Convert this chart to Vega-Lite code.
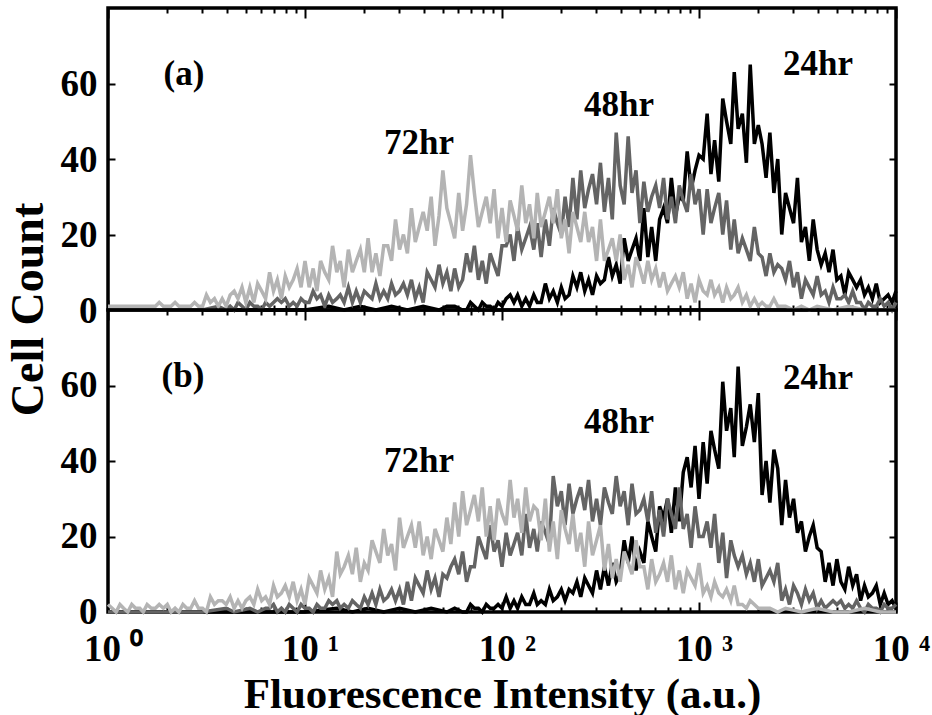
{
"$schema": "https://vega.github.io/schema/vega-lite/v6.json",
"padding": {"left": 3, "top": 5, "right": 0, "bottom": 0},
"bounds": "flush",
"spacing": 0,
"config": {
 "font": "Liberation Serif",
 "view": {"stroke": "#000000", "strokeWidth": 3.5},
 "axis": {"domain": false, "grid": false, "tickColor": "#000000", "tickWidth": 2, "zindex": 1, "labelFont": "Liberation Serif", "labelFontWeight": "bold", "labelFontSize": 37, "labelColor": "#000000", "titleFont": "Liberation Serif", "titleFontWeight": "bold", "titleFontSize": 44, "titleColor": "#000000", "labelFlush": false, "labelOverlap": false}
},
"datasets": {
"a72": [{"x":1,"y":1},{"x":1.2,"y":1},{"x":1.45,"y":1},{"x":1.74,"y":1},{"x":1.82,"y":2},{"x":1.91,"y":1},{"x":2.09,"y":1},{"x":2.19,"y":2},{"x":2.29,"y":1},{"x":2.51,"y":1},{"x":2.63,"y":1},{"x":2.75,"y":2},{"x":2.88,"y":1},{"x":3.02,"y":1},{"x":3.16,"y":4},{"x":3.31,"y":2},{"x":3.47,"y":3},{"x":3.63,"y":1},{"x":3.8,"y":3},{"x":3.98,"y":1},{"x":4.17,"y":4},{"x":4.37,"y":5},{"x":4.57,"y":3},{"x":4.79,"y":6},{"x":5.01,"y":2},{"x":5.25,"y":6},{"x":5.5,"y":2},{"x":5.75,"y":7},{"x":6.03,"y":5},{"x":6.31,"y":3},{"x":6.61,"y":10},{"x":6.92,"y":5},{"x":7.24,"y":8},{"x":7.59,"y":3},{"x":7.94,"y":9},{"x":8.32,"y":6},{"x":8.71,"y":8},{"x":9.12,"y":11},{"x":9.55,"y":6},{"x":10,"y":13},{"x":10.5,"y":6},{"x":11,"y":11},{"x":11.5,"y":5},{"x":12,"y":13},{"x":12.6,"y":10},{"x":13.2,"y":8},{"x":13.8,"y":17},{"x":14.5,"y":10},{"x":15.1,"y":13},{"x":15.8,"y":6},{"x":16.6,"y":16},{"x":17.4,"y":10},{"x":18.2,"y":13},{"x":19.1,"y":16},{"x":20,"y":10},{"x":20.9,"y":19},{"x":21.9,"y":10},{"x":22.9,"y":15},{"x":24,"y":9},{"x":25.1,"y":17},{"x":26.3,"y":17},{"x":27.5,"y":13},{"x":28.8,"y":24},{"x":30.2,"y":16},{"x":31.6,"y":20},{"x":33.1,"y":15},{"x":34.7,"y":27},{"x":36.3,"y":18},{"x":38,"y":22},{"x":39.8,"y":26},{"x":41.7,"y":21},{"x":43.7,"y":30},{"x":45.7,"y":17},{"x":47.9,"y":25},{"x":50.1,"y":37},{"x":52.5,"y":27},{"x":55,"y":23},{"x":57.5,"y":19},{"x":60.3,"y":31},{"x":63.1,"y":21},{"x":66.1,"y":28},{"x":69.2,"y":41},{"x":72.4,"y":31},{"x":75.9,"y":22},{"x":79.4,"y":26},{"x":83.2,"y":30},{"x":87.1,"y":23},{"x":91.2,"y":32},{"x":95.5,"y":19},{"x":100,"y":27},{"x":105,"y":18},{"x":110,"y":29},{"x":115,"y":25},{"x":120,"y":21},{"x":126,"y":33},{"x":132,"y":23},{"x":138,"y":28},{"x":145,"y":19},{"x":151,"y":31},{"x":158,"y":22},{"x":166,"y":26},{"x":174,"y":30},{"x":182,"y":23},{"x":191,"y":32},{"x":200,"y":19},{"x":209,"y":24},{"x":219,"y":15},{"x":229,"y":26},{"x":240,"y":22},{"x":251,"y":18},{"x":263,"y":26},{"x":275,"y":18},{"x":288,"y":22},{"x":302,"y":13},{"x":316,"y":24},{"x":331,"y":13},{"x":347,"y":16},{"x":363,"y":19},{"x":380,"y":13},{"x":398,"y":20},{"x":417,"y":8},{"x":437,"y":12},{"x":457,"y":6},{"x":479,"y":14},{"x":501,"y":11},{"x":525,"y":7},{"x":550,"y":13},{"x":575,"y":8},{"x":603,"y":11},{"x":631,"y":6},{"x":661,"y":10},{"x":692,"y":5},{"x":724,"y":7},{"x":759,"y":9},{"x":794,"y":6},{"x":832,"y":10},{"x":871,"y":3},{"x":912,"y":7},{"x":955,"y":2},{"x":1000,"y":8},{"x":1050,"y":5},{"x":1100,"y":4},{"x":1150,"y":8},{"x":1200,"y":4},{"x":1260,"y":6},{"x":1320,"y":2},{"x":1380,"y":6},{"x":1450,"y":3},{"x":1510,"y":4},{"x":1580,"y":6},{"x":1660,"y":2},{"x":1740,"y":4},{"x":1820,"y":1},{"x":1910,"y":3},{"x":2000,"y":1},{"x":2090,"y":2},{"x":2190,"y":1},{"x":2290,"y":1},{"x":2400,"y":3},{"x":2510,"y":1},{"x":2750,"y":1},{"x":3020,"y":0},{"x":3310,"y":1},{"x":3630,"y":0},{"x":3980,"y":1},{"x":4790,"y":0},{"x":5750,"y":1},{"x":6920,"y":0},{"x":8320,"y":0},{"x":10000,"y":0}],
"a48": [{"x":1,"y":0},{"x":1.32,"y":0},{"x":1.74,"y":0},{"x":2.29,"y":0},{"x":3.02,"y":0},{"x":3.63,"y":1},{"x":3.98,"y":0},{"x":4.17,"y":1},{"x":4.37,"y":0},{"x":4.57,"y":2},{"x":4.79,"y":1},{"x":5.01,"y":0},{"x":5.25,"y":2},{"x":5.5,"y":1},{"x":5.75,"y":1},{"x":6.03,"y":0},{"x":6.31,"y":2},{"x":6.61,"y":1},{"x":6.92,"y":2},{"x":7.24,"y":3},{"x":7.59,"y":2},{"x":7.94,"y":3},{"x":8.32,"y":1},{"x":8.71,"y":2},{"x":9.12,"y":1},{"x":9.55,"y":3},{"x":10,"y":2},{"x":10.5,"y":2},{"x":11,"y":5},{"x":11.5,"y":3},{"x":12,"y":4},{"x":12.6,"y":1},{"x":13.2,"y":4},{"x":13.8,"y":2},{"x":14.5,"y":3},{"x":15.1,"y":4},{"x":15.8,"y":2},{"x":16.6,"y":6},{"x":17.4,"y":2},{"x":18.2,"y":5},{"x":19.1,"y":2},{"x":20,"y":5},{"x":20.9,"y":4},{"x":21.9,"y":3},{"x":22.9,"y":7},{"x":24,"y":3},{"x":25.1,"y":5},{"x":26.3,"y":3},{"x":27.5,"y":7},{"x":28.8,"y":4},{"x":30.2,"y":5},{"x":31.6,"y":7},{"x":33.1,"y":4},{"x":34.7,"y":8},{"x":36.3,"y":3},{"x":38,"y":6},{"x":39.8,"y":2},{"x":41.7,"y":10},{"x":43.7,"y":8},{"x":45.7,"y":6},{"x":47.9,"y":12},{"x":50.1,"y":7},{"x":52.5,"y":10},{"x":55,"y":5},{"x":57.5,"y":11},{"x":60.3,"y":6},{"x":63.1,"y":8},{"x":66.1,"y":15},{"x":69.2,"y":10},{"x":72.4,"y":17},{"x":75.9,"y":8},{"x":79.4,"y":13},{"x":83.2,"y":7},{"x":87.1,"y":15},{"x":91.2,"y":12},{"x":95.5,"y":9},{"x":100,"y":17},{"x":105,"y":17},{"x":110,"y":20},{"x":115,"y":13},{"x":120,"y":22},{"x":126,"y":16},{"x":132,"y":19},{"x":138,"y":22},{"x":145,"y":16},{"x":151,"y":23},{"x":158,"y":14},{"x":166,"y":24},{"x":174,"y":17},{"x":182,"y":27},{"x":191,"y":23},{"x":200,"y":20},{"x":209,"y":30},{"x":219,"y":22},{"x":229,"y":35},{"x":240,"y":24},{"x":251,"y":37},{"x":263,"y":27},{"x":275,"y":32},{"x":288,"y":36},{"x":302,"y":28},{"x":316,"y":39},{"x":331,"y":26},{"x":347,"y":35},{"x":363,"y":24},{"x":380,"y":47},{"x":398,"y":33},{"x":417,"y":28},{"x":437,"y":46},{"x":457,"y":31},{"x":479,"y":37},{"x":501,"y":23},{"x":525,"y":34},{"x":550,"y":26},{"x":575,"y":30},{"x":603,"y":33},{"x":631,"y":27},{"x":661,"y":35},{"x":692,"y":24},{"x":724,"y":30},{"x":759,"y":23},{"x":794,"y":33},{"x":832,"y":29},{"x":871,"y":26},{"x":912,"y":36},{"x":955,"y":28},{"x":1000,"y":32},{"x":1050,"y":20},{"x":1100,"y":32},{"x":1150,"y":23},{"x":1200,"y":27},{"x":1260,"y":31},{"x":1320,"y":20},{"x":1380,"y":29},{"x":1450,"y":16},{"x":1510,"y":24},{"x":1580,"y":15},{"x":1660,"y":19},{"x":1740,"y":16},{"x":1820,"y":13},{"x":1910,"y":22},{"x":2000,"y":15},{"x":2090,"y":14},{"x":2190,"y":9},{"x":2290,"y":15},{"x":2400,"y":10},{"x":2510,"y":12},{"x":2630,"y":11},{"x":2750,"y":8},{"x":2880,"y":13},{"x":3020,"y":6},{"x":3160,"y":10},{"x":3310,"y":3},{"x":3470,"y":8},{"x":3630,"y":6},{"x":3800,"y":4},{"x":3980,"y":9},{"x":4170,"y":4},{"x":4370,"y":5},{"x":4570,"y":2},{"x":4790,"y":6},{"x":5010,"y":3},{"x":5250,"y":3},{"x":5500,"y":4},{"x":5750,"y":2},{"x":6030,"y":5},{"x":6310,"y":2},{"x":6610,"y":2},{"x":6920,"y":0},{"x":7240,"y":2},{"x":7590,"y":1},{"x":7940,"y":1},{"x":8320,"y":3},{"x":8710,"y":1},{"x":9120,"y":2},{"x":9550,"y":0},{"x":10000,"y":2}],
"a24": [{"x":1,"y":0},{"x":1.58,"y":0},{"x":2.51,"y":0},{"x":3.98,"y":0},{"x":6.31,"y":0},{"x":10,"y":0},{"x":13.2,"y":1},{"x":15.8,"y":0},{"x":19.1,"y":1},{"x":22.9,"y":0},{"x":27.5,"y":1},{"x":33.1,"y":0},{"x":39.8,"y":1},{"x":47.9,"y":0},{"x":52.5,"y":1},{"x":57.5,"y":1},{"x":63.1,"y":0},{"x":66.1,"y":0},{"x":69.2,"y":2},{"x":72.4,"y":1},{"x":75.9,"y":0},{"x":79.4,"y":2},{"x":83.2,"y":1},{"x":87.1,"y":1},{"x":91.2,"y":0},{"x":95.5,"y":2},{"x":100,"y":1},{"x":105,"y":3},{"x":110,"y":4},{"x":115,"y":2},{"x":120,"y":4},{"x":126,"y":1},{"x":132,"y":3},{"x":138,"y":1},{"x":145,"y":4},{"x":151,"y":2},{"x":158,"y":2},{"x":166,"y":7},{"x":174,"y":3},{"x":182,"y":5},{"x":191,"y":2},{"x":200,"y":6},{"x":209,"y":3},{"x":219,"y":4},{"x":229,"y":9},{"x":240,"y":6},{"x":251,"y":10},{"x":263,"y":5},{"x":275,"y":8},{"x":288,"y":4},{"x":302,"y":9},{"x":316,"y":7},{"x":331,"y":8},{"x":347,"y":14},{"x":363,"y":9},{"x":380,"y":12},{"x":398,"y":7},{"x":417,"y":19},{"x":437,"y":13},{"x":457,"y":16},{"x":479,"y":19},{"x":501,"y":13},{"x":525,"y":27},{"x":550,"y":14},{"x":575,"y":22},{"x":603,"y":13},{"x":631,"y":24},{"x":661,"y":27},{"x":692,"y":23},{"x":724,"y":35},{"x":759,"y":25},{"x":794,"y":30},{"x":832,"y":29},{"x":871,"y":42},{"x":912,"y":32},{"x":955,"y":37},{"x":1000,"y":41},{"x":1050,"y":40},{"x":1100,"y":52},{"x":1150,"y":36},{"x":1200,"y":45},{"x":1260,"y":34},{"x":1320,"y":56},{"x":1380,"y":50},{"x":1450,"y":44},{"x":1510,"y":63},{"x":1580,"y":48},{"x":1660,"y":52},{"x":1740,"y":39},{"x":1820,"y":65},{"x":1910,"y":44},{"x":2000,"y":49},{"x":2090,"y":44},{"x":2190,"y":35},{"x":2290,"y":47},{"x":2400,"y":31},{"x":2510,"y":40},{"x":2630,"y":20},{"x":2750,"y":31},{"x":2880,"y":27},{"x":3020,"y":23},{"x":3160,"y":35},{"x":3310,"y":18},{"x":3470,"y":22},{"x":3630,"y":13},{"x":3800,"y":24},{"x":3980,"y":16},{"x":4170,"y":12},{"x":4370,"y":15},{"x":4570,"y":10},{"x":4790,"y":16},{"x":5010,"y":8},{"x":5250,"y":9},{"x":5500,"y":4},{"x":5750,"y":10},{"x":6030,"y":8},{"x":6310,"y":6},{"x":6610,"y":8},{"x":6920,"y":4},{"x":7240,"y":6},{"x":7590,"y":3},{"x":7940,"y":7},{"x":8320,"y":2},{"x":8710,"y":3},{"x":9120,"y":4},{"x":9550,"y":2},{"x":10000,"y":5}],
"b72": [{"x":1,"y":2},{"x":1.05,"y":1},{"x":1.1,"y":0},{"x":1.15,"y":2},{"x":1.2,"y":1},{"x":1.26,"y":0},{"x":1.32,"y":2},{"x":1.38,"y":1},{"x":1.45,"y":1},{"x":1.51,"y":0},{"x":1.58,"y":2},{"x":1.66,"y":1},{"x":1.74,"y":1},{"x":1.82,"y":2},{"x":1.91,"y":1},{"x":2,"y":2},{"x":2.09,"y":0},{"x":2.19,"y":1},{"x":2.29,"y":0},{"x":2.4,"y":2},{"x":2.51,"y":1},{"x":2.63,"y":1},{"x":2.75,"y":3},{"x":2.88,"y":1},{"x":3.02,"y":1},{"x":3.16,"y":0},{"x":3.31,"y":4},{"x":3.47,"y":2},{"x":3.63,"y":3},{"x":3.8,"y":3},{"x":3.98,"y":2},{"x":4.17,"y":4},{"x":4.37,"y":1},{"x":4.57,"y":3},{"x":4.79,"y":1},{"x":5.01,"y":3},{"x":5.25,"y":4},{"x":5.5,"y":2},{"x":5.75,"y":6},{"x":6.03,"y":3},{"x":6.31,"y":4},{"x":6.61,"y":2},{"x":6.92,"y":7},{"x":7.24,"y":4},{"x":7.59,"y":5},{"x":7.94,"y":7},{"x":8.32,"y":4},{"x":8.71,"y":8},{"x":9.12,"y":3},{"x":9.55,"y":6},{"x":10,"y":2},{"x":10.5,"y":9},{"x":11,"y":7},{"x":11.5,"y":5},{"x":12,"y":11},{"x":12.6,"y":6},{"x":13.2,"y":9},{"x":13.8,"y":4},{"x":14.5,"y":16},{"x":15.1,"y":10},{"x":15.8,"y":12},{"x":16.6,"y":15},{"x":17.4,"y":10},{"x":18.2,"y":17},{"x":19.1,"y":8},{"x":20,"y":13},{"x":20.9,"y":11},{"x":21.9,"y":19},{"x":22.9,"y":16},{"x":24,"y":13},{"x":25.1,"y":22},{"x":26.3,"y":15},{"x":27.5,"y":18},{"x":28.8,"y":11},{"x":30.2,"y":25},{"x":31.6,"y":17},{"x":33.1,"y":20},{"x":34.7,"y":23},{"x":36.3,"y":17},{"x":38,"y":24},{"x":39.8,"y":15},{"x":41.7,"y":20},{"x":43.7,"y":14},{"x":45.7,"y":22},{"x":47.9,"y":19},{"x":50.1,"y":16},{"x":52.5,"y":25},{"x":55,"y":18},{"x":57.5,"y":29},{"x":60.3,"y":20},{"x":63.1,"y":32},{"x":66.1,"y":23},{"x":69.2,"y":27},{"x":72.4,"y":31},{"x":75.9,"y":24},{"x":79.4,"y":33},{"x":83.2,"y":20},{"x":87.1,"y":28},{"x":91.2,"y":19},{"x":95.5,"y":30},{"x":100,"y":26},{"x":105,"y":23},{"x":110,"y":35},{"x":115,"y":25},{"x":120,"y":30},{"x":126,"y":21},{"x":132,"y":33},{"x":138,"y":24},{"x":145,"y":28},{"x":151,"y":27},{"x":158,"y":19},{"x":166,"y":30},{"x":174,"y":16},{"x":182,"y":24},{"x":191,"y":14},{"x":200,"y":27},{"x":209,"y":22},{"x":219,"y":18},{"x":229,"y":26},{"x":240,"y":16},{"x":251,"y":21},{"x":263,"y":12},{"x":275,"y":24},{"x":288,"y":15},{"x":302,"y":19},{"x":316,"y":23},{"x":331,"y":11},{"x":347,"y":18},{"x":363,"y":9},{"x":380,"y":14},{"x":398,"y":8},{"x":417,"y":16},{"x":437,"y":13},{"x":457,"y":10},{"x":479,"y":19},{"x":501,"y":12},{"x":525,"y":12},{"x":550,"y":6},{"x":575,"y":14},{"x":603,"y":8},{"x":631,"y":10},{"x":661,"y":13},{"x":692,"y":8},{"x":724,"y":15},{"x":759,"y":6},{"x":794,"y":11},{"x":832,"y":5},{"x":871,"y":11},{"x":912,"y":9},{"x":955,"y":7},{"x":1000,"y":13},{"x":1050,"y":5},{"x":1100,"y":7},{"x":1150,"y":4},{"x":1200,"y":8},{"x":1260,"y":5},{"x":1320,"y":4},{"x":1380,"y":6},{"x":1450,"y":3},{"x":1510,"y":7},{"x":1580,"y":2},{"x":1660,"y":2},{"x":1740,"y":1},{"x":1820,"y":3},{"x":1910,"y":2},{"x":2000,"y":1},{"x":2290,"y":1},{"x":2510,"y":0},{"x":2750,"y":1},{"x":3310,"y":0},{"x":3980,"y":1},{"x":4790,"y":0},{"x":5750,"y":0},{"x":6920,"y":1},{"x":8320,"y":0},{"x":10000,"y":0}],
"b48": [{"x":1,"y":0},{"x":1.45,"y":0},{"x":2.09,"y":0},{"x":3.02,"y":0},{"x":3.98,"y":1},{"x":4.37,"y":0},{"x":5.25,"y":1},{"x":5.75,"y":0},{"x":6.31,"y":1},{"x":6.61,"y":1},{"x":6.92,"y":2},{"x":7.24,"y":0},{"x":7.59,"y":1},{"x":7.94,"y":0},{"x":8.32,"y":2},{"x":8.71,"y":1},{"x":9.12,"y":0},{"x":9.55,"y":2},{"x":10,"y":1},{"x":10.5,"y":1},{"x":11,"y":0},{"x":11.5,"y":2},{"x":12,"y":1},{"x":12.6,"y":1},{"x":13.2,"y":3},{"x":13.8,"y":2},{"x":14.5,"y":3},{"x":15.1,"y":1},{"x":15.8,"y":2},{"x":16.6,"y":1},{"x":17.4,"y":3},{"x":18.2,"y":2},{"x":19.1,"y":1},{"x":20,"y":4},{"x":20.9,"y":2},{"x":21.9,"y":5},{"x":22.9,"y":2},{"x":24,"y":6},{"x":25.1,"y":3},{"x":26.3,"y":4},{"x":27.5,"y":6},{"x":28.8,"y":3},{"x":30.2,"y":6},{"x":31.6,"y":2},{"x":33.1,"y":8},{"x":34.7,"y":3},{"x":36.3,"y":9},{"x":38,"y":7},{"x":39.8,"y":5},{"x":41.7,"y":11},{"x":43.7,"y":6},{"x":45.7,"y":9},{"x":47.9,"y":4},{"x":50.1,"y":10},{"x":52.5,"y":9},{"x":55,"y":12},{"x":57.5,"y":14},{"x":60.3,"y":10},{"x":63.1,"y":16},{"x":66.1,"y":8},{"x":69.2,"y":12},{"x":72.4,"y":12},{"x":75.9,"y":20},{"x":79.4,"y":17},{"x":83.2,"y":14},{"x":87.1,"y":23},{"x":91.2,"y":16},{"x":95.5,"y":19},{"x":100,"y":12},{"x":105,"y":21},{"x":110,"y":15},{"x":115,"y":18},{"x":120,"y":21},{"x":126,"y":15},{"x":132,"y":26},{"x":138,"y":17},{"x":145,"y":22},{"x":151,"y":16},{"x":158,"y":24},{"x":166,"y":21},{"x":174,"y":18},{"x":182,"y":36},{"x":191,"y":28},{"x":200,"y":32},{"x":209,"y":23},{"x":219,"y":34},{"x":229,"y":26},{"x":240,"y":30},{"x":251,"y":33},{"x":263,"y":27},{"x":275,"y":35},{"x":288,"y":24},{"x":302,"y":30},{"x":316,"y":23},{"x":331,"y":33},{"x":347,"y":29},{"x":363,"y":26},{"x":380,"y":36},{"x":398,"y":28},{"x":417,"y":32},{"x":437,"y":23},{"x":457,"y":34},{"x":479,"y":26},{"x":501,"y":27},{"x":525,"y":30},{"x":550,"y":24},{"x":575,"y":32},{"x":603,"y":21},{"x":631,"y":27},{"x":661,"y":20},{"x":692,"y":30},{"x":724,"y":26},{"x":759,"y":22},{"x":794,"y":33},{"x":832,"y":22},{"x":871,"y":26},{"x":912,"y":17},{"x":955,"y":28},{"x":1000,"y":20},{"x":1050,"y":20},{"x":1100,"y":24},{"x":1150,"y":17},{"x":1200,"y":26},{"x":1260,"y":13},{"x":1320,"y":21},{"x":1380,"y":9},{"x":1450,"y":19},{"x":1510,"y":15},{"x":1580,"y":12},{"x":1660,"y":15},{"x":1740,"y":10},{"x":1820,"y":13},{"x":1910,"y":8},{"x":2000,"y":14},{"x":2090,"y":7},{"x":2190,"y":9},{"x":2290,"y":11},{"x":2400,"y":8},{"x":2510,"y":13},{"x":2630,"y":3},{"x":2750,"y":6},{"x":2880,"y":2},{"x":3020,"y":7},{"x":3160,"y":5},{"x":3310,"y":2},{"x":3470,"y":6},{"x":3630,"y":3},{"x":3800,"y":5},{"x":3980,"y":1},{"x":4170,"y":3},{"x":4370,"y":1},{"x":4570,"y":2},{"x":4790,"y":3},{"x":5010,"y":2},{"x":5250,"y":3},{"x":5500,"y":1},{"x":5750,"y":2},{"x":6030,"y":1},{"x":6310,"y":3},{"x":6610,"y":1},{"x":6920,"y":0},{"x":7240,"y":2},{"x":7590,"y":1},{"x":7940,"y":1},{"x":8320,"y":0},{"x":8710,"y":2},{"x":9120,"y":1},{"x":9550,"y":1},{"x":10000,"y":2}],
"b24": [{"x":1,"y":0},{"x":1.58,"y":0},{"x":2.51,"y":0},{"x":3.98,"y":0},{"x":6.31,"y":0},{"x":10,"y":0},{"x":14.5,"y":1},{"x":17.4,"y":0},{"x":20.9,"y":1},{"x":25.1,"y":0},{"x":30.2,"y":1},{"x":36.3,"y":0},{"x":43.7,"y":1},{"x":52.5,"y":0},{"x":57.5,"y":1},{"x":63.1,"y":0},{"x":66.1,"y":0},{"x":69.2,"y":2},{"x":72.4,"y":1},{"x":75.9,"y":1},{"x":79.4,"y":0},{"x":83.2,"y":2},{"x":87.1,"y":1},{"x":91.2,"y":1},{"x":95.5,"y":2},{"x":100,"y":1},{"x":105,"y":4},{"x":110,"y":1},{"x":115,"y":3},{"x":120,"y":1},{"x":126,"y":4},{"x":132,"y":2},{"x":138,"y":2},{"x":145,"y":5},{"x":151,"y":2},{"x":158,"y":3},{"x":166,"y":2},{"x":174,"y":6},{"x":182,"y":3},{"x":191,"y":4},{"x":200,"y":6},{"x":209,"y":3},{"x":219,"y":6},{"x":229,"y":5},{"x":240,"y":8},{"x":251,"y":4},{"x":263,"y":9},{"x":275,"y":7},{"x":288,"y":5},{"x":302,"y":11},{"x":316,"y":6},{"x":331,"y":12},{"x":347,"y":7},{"x":363,"y":13},{"x":380,"y":8},{"x":398,"y":10},{"x":417,"y":19},{"x":437,"y":13},{"x":457,"y":20},{"x":479,"y":11},{"x":501,"y":16},{"x":525,"y":13},{"x":550,"y":24},{"x":575,"y":20},{"x":603,"y":16},{"x":631,"y":28},{"x":661,"y":25},{"x":692,"y":30},{"x":724,"y":21},{"x":759,"y":33},{"x":794,"y":24},{"x":832,"y":37},{"x":871,"y":41},{"x":912,"y":33},{"x":955,"y":44},{"x":1000,"y":30},{"x":1050,"y":45},{"x":1100,"y":34},{"x":1150,"y":48},{"x":1200,"y":43},{"x":1260,"y":38},{"x":1320,"y":61},{"x":1380,"y":48},{"x":1450,"y":54},{"x":1510,"y":41},{"x":1580,"y":65},{"x":1660,"y":44},{"x":1740,"y":49},{"x":1820,"y":55},{"x":1910,"y":45},{"x":2000,"y":58},{"x":2090,"y":31},{"x":2190,"y":40},{"x":2290,"y":29},{"x":2400,"y":43},{"x":2510,"y":38},{"x":2630,"y":23},{"x":2750,"y":35},{"x":2880,"y":25},{"x":3020,"y":30},{"x":3160,"y":21},{"x":3310,"y":24},{"x":3470,"y":16},{"x":3630,"y":20},{"x":3800,"y":23},{"x":3980,"y":17},{"x":4170,"y":16},{"x":4370,"y":8},{"x":4570,"y":13},{"x":4790,"y":7},{"x":5010,"y":14},{"x":5250,"y":8},{"x":5500,"y":6},{"x":5750,"y":12},{"x":6030,"y":7},{"x":6310,"y":10},{"x":6610,"y":3},{"x":6920,"y":7},{"x":7240,"y":4},{"x":7590,"y":5},{"x":7940,"y":7},{"x":8320,"y":2},{"x":8710,"y":5},{"x":9120,"y":2},{"x":9550,"y":3},{"x":10000,"y":1}],
"la": [{"t":"(a)","x":2.43,"y":62.5},{"t":"72hr","x":37.9,"y":44.2},{"t":"48hr","x":393,"y":54.3},{"t":"24hr","x":4018,"y":65.2}],
"lb": [{"t":"(b)","x":2.4,"y":62.4},{"t":"72hr","x":37.9,"y":40.1},{"t":"48hr","x":393,"y":50.2},{"t":"24hr","x":4018,"y":62.1}]
},
"vconcat": [
{
 "width": 788, "height": 302,
 "resolve": {"axis": {"x": "independent", "y": "independent"}},
 "layer": [
  {"data": {"name": "a24"}, "mark": {"type": "line", "color": "#000000", "strokeWidth": 3.5},
   "encoding": {
    "x": {"field": "x", "type": "quantitative", "scale": {"type": "log", "domain": [1, 10000], "nice": false},
          "axis": {"orient": "bottom", "values": [1, 10, 100, 1000, 10000], "offset": -10, "tickSize": 10, "labels": false, "title": null}},
    "y": {"field": "y", "type": "quantitative", "scale": {"domain": [0, 80], "nice": false},
          "axis": {"orient": "left", "values": [0, 20, 40, 60], "offset": -7, "tickSize": 7, "labelPadding": 11, "labelOffset": 1, "title": "Cell Count", "titleFontSize": 46, "titleX": -87, "titleY": 301, "titleAngle": -90, "titleAlign": "center", "titleBaseline": "middle"}}
   }},
  {"data": {"name": "a48"}, "mark": {"type": "line", "color": "#646464", "strokeWidth": 3.5},
   "encoding": {
    "x": {"field": "x", "type": "quantitative", "scale": {"type": "log", "domain": [1, 10000], "nice": false},
          "axis": {"orient": "bottom", "values": [2,3,4,5,6,7,8,9,20,30,40,50,60,70,80,90,200,300,400,500,600,700,800,900,2000,3000,4000,5000,6000,7000,8000,9000], "offset": -5, "tickSize": 5, "labels": false, "title": null}},
    "y": {"field": "y", "type": "quantitative", "scale": {"domain": [0, 80], "nice": false},
          "axis": {"orient": "right", "values": [20, 40, 60], "offset": -7, "tickSize": 7, "labels": false, "title": null}}
   }},
  {"data": {"name": "a72"}, "mark": {"type": "line", "color": "#b4b4b4", "strokeWidth": 3.5},
   "encoding": {
    "x": {"field": "x", "type": "quantitative", "scale": {"type": "log", "domain": [1, 10000], "nice": false},
          "axis": {"orient": "top", "values": [1, 10, 100, 1000, 10000], "offset": -10, "tickSize": 10, "labels": false, "title": null}},
    "y": {"field": "y", "type": "quantitative", "scale": {"domain": [0, 80], "nice": false}, "axis": null}
   }},
  {"data": {"name": "la"}, "mark": {"type": "text", "fontSize": 35, "fontWeight": "bold", "font": "Liberation Serif", "color": "#000000", "align": "center", "baseline": "middle"},
   "encoding": {
    "x": {"field": "x", "type": "quantitative", "scale": {"type": "log", "domain": [1, 10000], "nice": false},
          "axis": {"orient": "top", "values": [2,3,4,5,6,7,8,9,20,30,40,50,60,70,80,90,200,300,400,500,600,700,800,900,2000,3000,4000,5000,6000,7000,8000,9000], "offset": -5, "tickSize": 5, "labels": false, "title": null}},
    "y": {"field": "y", "type": "quantitative", "scale": {"domain": [0, 80], "nice": false}, "axis": null},
    "text": {"field": "t", "type": "nominal"}
   }}
 ]
},
{
 "width": 788, "height": 302,
 "resolve": {"axis": {"x": "independent", "y": "independent"}},
 "layer": [
  {"data": {"name": "b24"}, "mark": {"type": "line", "color": "#000000", "strokeWidth": 3.5},
   "encoding": {
    "x": {"field": "x", "type": "quantitative", "scale": {"type": "log", "domain": [1, 10000], "nice": false},
          "axis": {"orient": "bottom", "values": [1, 10, 100, 1000, 10000], "offset": -10, "tickSize": 10, "labelPadding": 48, "labelBaseline": "alphabetic", "labelFontSize": 37, "labelOffset": 5,
                   "labelExpr": "datum.value == 1 ? '10 ⁰' : datum.value == 10 ? '10 ¹' : datum.value == 100 ? '10 ²' : datum.value == 1000 ? '10 ³' : '10 ⁴'",
                   "title": "Fluorescence Intensity (a.u.)", "titleFontSize": 43, "titleY": 105, "titleBaseline": "alphabetic"}},
    "y": {"field": "y", "type": "quantitative", "scale": {"domain": [0, 80], "nice": false},
          "axis": {"orient": "left", "values": [0, 20, 40, 60], "offset": -7, "tickSize": 7, "labelPadding": 11, "labelOffset": 0, "title": null}}
   }},
  {"data": {"name": "b48"}, "mark": {"type": "line", "color": "#646464", "strokeWidth": 3.5},
   "encoding": {
    "x": {"field": "x", "type": "quantitative", "scale": {"type": "log", "domain": [1, 10000], "nice": false},
          "axis": {"orient": "bottom", "values": [2,3,4,5,6,7,8,9,20,30,40,50,60,70,80,90,200,300,400,500,600,700,800,900,2000,3000,4000,5000,6000,7000,8000,9000], "offset": -5, "tickSize": 5, "labels": false, "title": null}},
    "y": {"field": "y", "type": "quantitative", "scale": {"domain": [0, 80], "nice": false},
          "axis": {"orient": "right", "values": [20, 40, 60], "offset": -7, "tickSize": 7, "labels": false, "title": null}}
   }},
  {"data": {"name": "b72"}, "mark": {"type": "line", "color": "#b4b4b4", "strokeWidth": 3.5},
   "encoding": {
    "x": {"field": "x", "type": "quantitative", "scale": {"type": "log", "domain": [1, 10000], "nice": false},
          "axis": {"orient": "top", "values": [1, 10, 100, 1000, 10000], "offset": -10, "tickSize": 10, "labels": false, "title": null}},
    "y": {"field": "y", "type": "quantitative", "scale": {"domain": [0, 80], "nice": false}, "axis": null}
   }},
  {"data": {"name": "lb"}, "mark": {"type": "text", "fontSize": 35, "fontWeight": "bold", "font": "Liberation Serif", "color": "#000000", "align": "center", "baseline": "middle"},
   "encoding": {
    "x": {"field": "x", "type": "quantitative", "scale": {"type": "log", "domain": [1, 10000], "nice": false},
          "axis": {"orient": "top", "values": [2,3,4,5,6,7,8,9,20,30,40,50,60,70,80,90,200,300,400,500,600,700,800,900,2000,3000,4000,5000,6000,7000,8000,9000], "offset": -5, "tickSize": 5, "labels": false, "title": null}},
    "y": {"field": "y", "type": "quantitative", "scale": {"domain": [0, 80], "nice": false}, "axis": null},
    "text": {"field": "t", "type": "nominal"}
   }}
 ]
}
]
}
